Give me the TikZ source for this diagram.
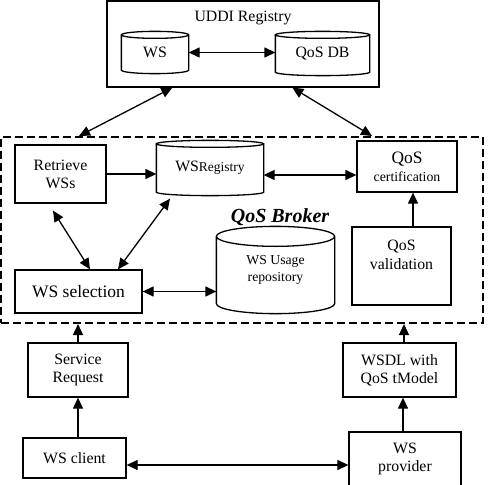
\documentclass[tikz,border=0pt]{standalone}
\usepackage{fontspec}
\setmainfont{Liberation Serif}
\usetikzlibrary{arrows.meta,calc}
\newcommand{\myfs}[2]{\fontsize{#1pt}{#2pt}\selectfont}
\newcommand{\cylshape}[2]{%
  \draw let \p1=(#1.north west), \p2=(#1.south east), \p3=(#1.north), \n1={0.5*(\x2-\x1)} in
    (\x1,\y1-#2pt) -- (\x1,\y2+#2pt)
    arc[start angle=180,end angle=360,x radius=\n1,y radius=#2pt] -- (\x2,\y1-#2pt)
    (\x3,\y3-#2pt) ellipse[x radius=\n1,y radius=#2pt];
}
\tikzset{
  boxnode/.style={draw, rectangle, line width=1.3pt, inner sep=0pt, align=center, font=\myfs{15.8}{18}},
  cylnode/.style={rectangle, inner sep=0pt, align=center, font=\myfs{15.8}{18}},
  plain/.style={inner sep=0pt, align=center, font=\myfs{15.8}{18}},
  brokerbox/.style={draw, rectangle, line width=2pt, dash pattern=on 8pt off 4pt, inner sep=0pt},
  conn/.style={line width=1.3pt, {Triangle[length=11pt,width=10pt]}-{Triangle[length=11pt,width=10pt]}},
  oneway/.style={line width=1.3pt, -{Triangle[length=11pt,width=10pt]}}
}
\begin{document}
\begin{tikzpicture}[x=1pt,y=-1pt,line width=1.3pt]
\useasboundingbox (0,0) rectangle (489,484);
\clip (0,0) rectangle (489,484);

% UDDI
\node[boxnode, minimum width=272pt, minimum height=86pt] (uddi) at (243,44) {};
\node[plain] (uddilbl) at (243,18) {UDDI Registry};
\node[cylnode, minimum width=66pt, minimum height=41pt] (ws) at (155,52.5) {\raisebox{-2pt}{WS}};
\cylshape{ws}{3.5}
\node[cylnode, minimum width=93pt, minimum height=43pt] (qosdb) at (322.5,53.5) {\raisebox{-2pt}{QoS DB}};
\cylshape{qosdb}{3.5}
\draw[conn] (ws.east) -- (ws.east -| qosdb.west);

% Broker
\node[brokerbox, minimum width=482pt, minimum height=186pt] (broker) at (242,230) {};
\node[boxnode, minimum width=91pt, minimum height=58pt] (retrieve) at (60.5,174) {Retrieve\\WSs};
\node[cylnode, minimum width=106pt, minimum height=54pt] (wsreg) at (210,168) {WS{\myfs{13.5}{16}Registry}};
\cylshape{wsreg}{3.5}
\node[boxnode, minimum width=100pt, minimum height=51pt] (cert) at (407,166.5) {{\myfs{17.4}{18}QoS}\\{\myfs{13.8}{16}certification}};
\node[plain, font=\bfseries\itshape\myfs{20}{22}] (brokerlbl) at (280,217) {QoS Broker};
\node[cylnode, minimum width=117pt, minimum height=86pt, font=\myfs{13.7}{17}] (usage) at (275.5,270) {\raisebox{-4pt}{\begin{tabular}{@{}c@{}}WS Usage\\repository\end{tabular}}};
\cylshape{usage}{10}
\node[boxnode, minimum width=99pt, minimum height=78pt] (valid) at (401.5,266) {};
\node[plain, font=\myfs{15.8}{19}] (validlbl) at (401.5,254.5) {QoS\\validation};
\node[boxnode, minimum width=127pt, minimum height=43pt, font=\myfs{17.5}{20}] (selection) at (78.5,291.5) {WS selection};

\draw[oneway] ([yshift=0pt]retrieve.east) -- ([yshift=0pt]retrieve.east -| wsreg.west);
\draw[conn] ([yshift=-7pt]wsreg.east) -- ([yshift=-7pt]wsreg.east -| cert.west);
\draw[oneway] ([xshift=11.5pt]valid.north) -- ([xshift=11.5pt]valid.north |- cert.south);
\draw[conn] (selection.east) -- (selection.east -| usage.west);
\draw[conn] ([xshift=-7.5pt,yshift=-7pt]retrieve.south) -- ([xshift=11.5pt]selection.north);
\draw[conn] ([xshift=-40pt,yshift=-3pt]wsreg.south) -- ([xshift=39.5pt]selection.north);

% UDDI to broker
\draw[conn] ([xshift=66pt]uddi.south west) -- ([xshift=79pt]broker.north west);
\draw[conn] ([xshift=186pt]uddi.south west) -- ([xshift=372pt]broker.north west);

% bottom
\node[boxnode, minimum width=100pt, minimum height=54pt] (servreq) at (78,370) {Service\\Request};
\node[boxnode, minimum width=113pt, minimum height=54pt] (wsdl) at (399.5,370) {WSDL with\\QoS tModel};
\node[boxnode, minimum width=103pt, minimum height=40pt] (client) at (74.5,458) {WS client};
\node[boxnode, minimum width=112pt, minimum height=54pt] (provider) at (405,459) {WS\\provider};

\draw[oneway] (servreq.north) -- (servreq.north |- broker.south);
\draw[oneway] ([xshift=4.5pt]wsdl.north) -- ([xshift=4.5pt]wsdl.north |- broker.south);
\draw[oneway] (servreq.south |- client.north) -- (servreq.south);
\draw[oneway] ([xshift=3.5pt]wsdl.south |- provider.north) -- ([xshift=3.5pt]wsdl.south);
\draw[conn] ([yshift=-7pt]client.east) -- ([yshift=-7pt]client.east -| provider.west);
\end{tikzpicture}
\end{document}
